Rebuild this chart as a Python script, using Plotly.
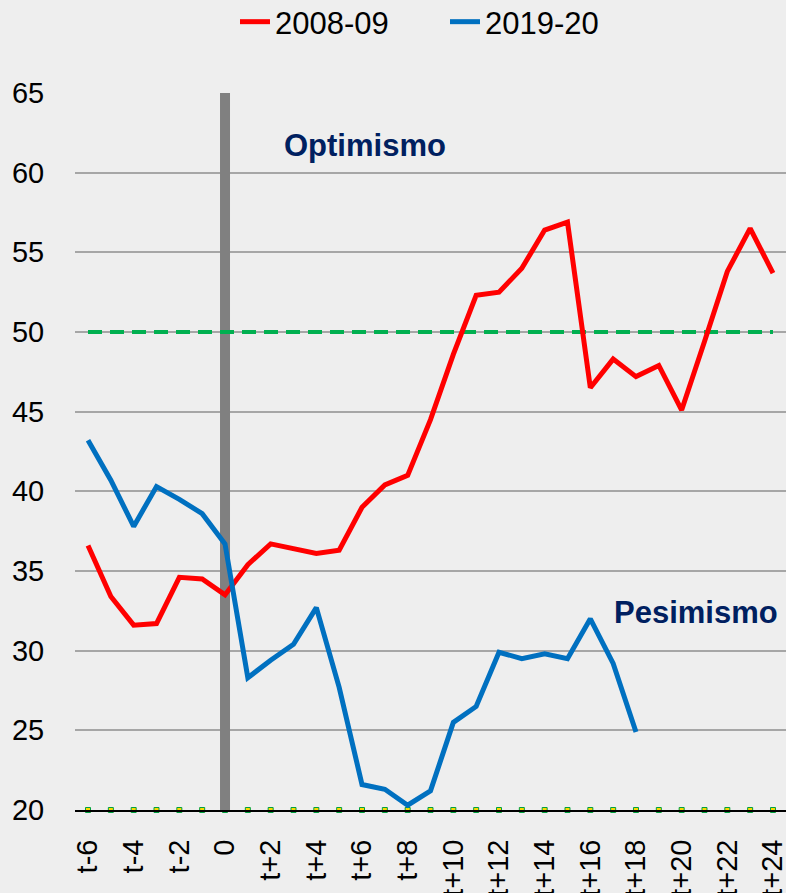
import plotly.graph_objects as go

periods = ["t-6", "t-5", "t-4", "t-3", "t-2", "t-1", "0",
           "t+1", "t+2", "t+3", "t+4", "t+5", "t+6", "t+7", "t+8", "t+9", "t+10",
           "t+11", "t+12", "t+13", "t+14", "t+15", "t+16", "t+17", "t+18", "t+19", "t+20",
           "t+21", "t+22", "t+23", "t+24"]

s2008 = [36.6, 33.4, 31.6, 31.7, 34.6, 34.5, 33.5,
         35.4, 36.7, 36.4, 36.1, 36.3, 39.0, 40.4, 41.0, 44.5, 48.6,
         52.3, 52.5, 54.0, 56.4, 56.9, 46.5, 48.3, 47.2, 47.9, 45.1,
         49.4, 53.8, 56.5, 53.7]

s2019 = [43.2, 40.7, 37.8, 40.3, 39.5, 38.6, 36.7,
         28.3, 29.4, 30.4, 32.7, 27.7, 21.6, 21.3, 20.3, 21.2, 25.5,
         26.5, 29.9, 29.5, 29.8, 29.5, 32.0, 29.2, 24.9]

threshold = [50] * len(periods)
baseline = [20] * len(periods)
event_x = ["0", "0"]
event_y = [20, 65]

tick_labels = ["t-6", "t-4", "t-2", "0", "t+2", "t+4", "t+6", "t+8", "t+10", "t+12",
               "t+14", "t+16", "t+18", "t+20", "t+22", "t+24"]

FONT = "Liberation Sans, Arial, sans-serif"

fig = go.Figure()

fig.add_trace(go.Scatter(x=periods, y=baseline, mode="markers", showlegend=False,
                         marker=dict(symbol="square", size=5, color="#ffd800",
                                     line=dict(color="#00a040", width=1)),
                         hoverinfo="skip", cliponaxis=False))
fig.add_trace(go.Scatter(x=event_x, y=event_y, mode="lines", showlegend=False,
                         line=dict(color="#808080", width=10), hoverinfo="skip"))
fig.add_trace(go.Scatter(x=periods, y=threshold, mode="lines", showlegend=False,
                         line=dict(color="#00b050", width=4, dash="14px,8px"),
                         hoverinfo="skip"))
fig.add_trace(go.Scatter(x=periods, y=s2008, mode="lines", name="2008-09",
                         line=dict(color="#ff0000", width=5)))
fig.add_trace(go.Scatter(x=periods[:len(s2019)], y=s2019, mode="lines", name="2019-20",
                         line=dict(color="#0070c0", width=5)))

fig.update_layout(
    width=786, height=893,
    margin=dict(l=75, r=0, t=93, b=83, autoexpand=False),
    paper_bgcolor="#eeeeee",
    plot_bgcolor="rgba(0,0,0,0)",
    font=dict(family=FONT, size=29, color="#000000"),
    showlegend=True,
    legend=dict(orientation="h", x=0.225, xanchor="left", y=1.099, yanchor="middle",
                font=dict(size=31, family=FONT), bgcolor="rgba(0,0,0,0)",
                itemwidth=30, entrywidth=165, entrywidthmode="pixels", tracegroupgap=0),
    xaxis=dict(type="category", categoryorder="array", categoryarray=periods,
               range=[-0.57, 30.57], tickmode="array", tickvals=tick_labels,
               ticktext=tick_labels, tickangle=-90, showgrid=False, automargin=False,
               ticks="outside", ticklen=16, tickcolor="rgba(0,0,0,0)",
               showline=True, linecolor="#000000", linewidth=2,
               tickfont=dict(size=29, family=FONT), zeroline=False),
    yaxis=dict(range=[20, 65], dtick=5, tick0=20, showgrid=True, automargin=False,
               gridcolor="#a6a6a6", gridwidth=2, zeroline=False,
               ticks="outside", ticklen=24, tickcolor="rgba(0,0,0,0)",
               tickfont=dict(size=29, family=FONT), showline=False),
    annotations=[
        dict(text="<b>Optimismo</b>", xref="paper", yref="paper", x=0.408, y=0.927,
             xanchor="center", yanchor="middle",
             showarrow=False, font=dict(size=31, color="#002060", family=FONT)),
        dict(text="<b>Pesimismo</b>", xref="paper", yref="paper", x=0.873, y=0.276,
             xanchor="center", yanchor="middle",
             showarrow=False, font=dict(size=31, color="#002060", family=FONT)),
    ],
)

fig.write_html("out.html", config={"displayModeBar": False},
               post_script="document.body.style.margin='0';document.body.style.overflow='hidden';")
